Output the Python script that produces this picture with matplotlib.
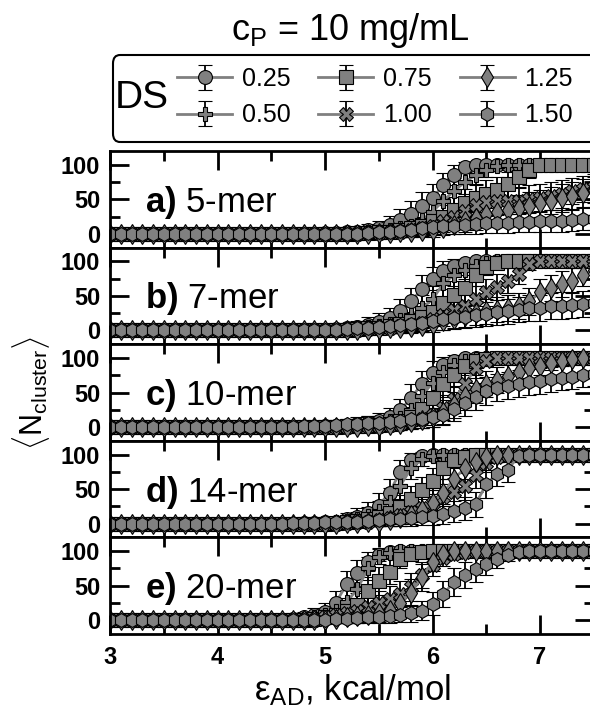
import matplotlib.pyplot as plt
from matplotlib.patches import FancyBboxPatch
import numpy as np

plt.rcParams['font.family'] = ['Liberation Sans', 'DejaVu Sans']
plt.rcParams['mathtext.fontset'] = 'custom'
plt.rcParams['mathtext.rm'] = 'Liberation Sans'
plt.rcParams['mathtext.it'] = 'Liberation Sans:italic'
plt.rcParams['mathtext.bf'] = 'Liberation Sans:bold'
plt.rcParams['mathtext.fallback'] = 'cm'

# epsilon_AD grid, 3.0 ... 7.5 kcal/mol in steps of 0.1
eps = np.round(np.arange(30, 76) / 10.0, 1)

ds_labels = ['0.25', '0.50', '0.75', '1.00', '1.25', '1.50']
ds_markers = ['o', 'P', 's', 'X', 'd', 'h']
panel_tags = ['a)', 'b)', 'c)', 'd)', 'e)']
panel_names = ['5-mer', '7-mer', '10-mer', '14-mer', '20-mer']

# <N_cluster> per DS (rows), values at 3.0-4.9 on first line, 5.0-7.5 on second
n_5mer = [
    [0, 0, 0, 0, 0, 0, 0, 0, 0, 0, 0, 0, 0, 0, 0, 0, 0, 0, 0, 0,
     1, 1, 2, 3, 5, 8, 13, 20, 29, 40, 52, 70, 85, 97, 100, 100, 100, 100, 100, 100, 100, 100, 100, 100, 100, 100],
    [0, 0, 0, 0, 0, 0, 0, 0, 0, 0, 0, 0, 0, 0, 0, 0, 0, 0, 0, 0,
     0, 0, 1, 1, 2, 3, 5, 8, 12, 20, 32, 48, 62, 75, 85, 93, 98, 100, 100, 100, 100, 100, 100, 100, 100, 100],
    [0, 0, 0, 0, 0, 0, 0, 0, 0, 0, 0, 0, 0, 0, 0, 0, 0, 0, 0, 0,
     0, 0, 0, 1, 1, 2, 3, 5, 8, 12, 18, 25, 35, 45, 52, 58, 63, 72, 82, 92, 100, 100, 100, 100, 100, 100],
    [0, 0, 0, 0, 0, 0, 0, 0, 0, 0, 0, 0, 0, 0, 0, 0, 0, 0, 0, 0,
     0, 0, 0, 0, 1, 1, 2, 3, 5, 8, 12, 18, 25, 33, 42, 46, 47, 48, 48, 50, 52, 55, 58, 62, 65, 68],
    [0, 0, 0, 0, 0, 0, 0, 0, 0, 0, 0, 0, 0, 0, 0, 0, 0, 0, 0, 0,
     0, 0, 0, 0, 0, 1, 1, 2, 3, 4, 6, 9, 13, 18, 23, 28, 31, 34, 37, 41, 44, 48, 52, 55, 59, 63],
    [0, 0, 0, 0, 0, 0, 0, 0, 0, 0, 0, 0, 0, 0, 0, 0, 0, 0, 0, 0,
     0, 0, 0, 0, 1, 2, 3, 4, 6, 8, 10, 11, 12, 13, 14, 15, 16, 16, 17, 17, 18, 19, 19, 20, 21, 22],
]
err_5mer = [
    [0, 0, 0, 0, 0, 0, 0, 0, 0, 0, 0, 0, 0, 0, 0, 0, 0, 0, 0, 0,
     4, 4, 6, 7, 9, 11, 13, 16, 18, 20, 20, 18, 14, 7, 0, 0, 0, 0, 0, 0, 0, 0, 0, 0, 0, 0],
    [0, 0, 0, 0, 0, 0, 0, 0, 0, 0, 0, 0, 0, 0, 0, 0, 0, 0, 0, 0,
     0, 0, 4, 4, 6, 7, 9, 11, 13, 16, 19, 20, 19, 17, 14, 10, 6, 0, 0, 0, 0, 0, 0, 0, 0, 0],
    [0, 0, 0, 0, 0, 0, 0, 0, 0, 0, 0, 0, 0, 0, 0, 0, 0, 0, 0, 0,
     0, 0, 0, 4, 4, 6, 7, 9, 11, 13, 15, 17, 19, 20, 20, 20, 19, 18, 15, 11, 0, 0, 0, 0, 0, 0],
    [0, 0, 0, 0, 0, 0, 0, 0, 0, 0, 0, 0, 0, 0, 0, 0, 0, 0, 0, 0,
     0, 0, 0, 0, 4, 4, 6, 7, 9, 11, 13, 15, 17, 19, 20, 20, 20, 20, 20, 20, 20, 20, 20, 19, 19, 19],
    [0, 0, 0, 0, 0, 0, 0, 0, 0, 0, 0, 0, 0, 0, 0, 0, 0, 0, 0, 0,
     0, 0, 0, 0, 0, 4, 4, 6, 7, 8, 10, 11, 13, 15, 17, 18, 18, 19, 19, 20, 20, 20, 20, 20, 20, 19],
    [0, 0, 0, 0, 0, 0, 0, 0, 0, 0, 0, 0, 0, 0, 0, 0, 0, 0, 0, 0,
     0, 0, 0, 0, 4, 6, 7, 8, 9, 11, 12, 12, 13, 13, 14, 14, 15, 15, 15, 15, 15, 16, 16, 16, 16, 17],
]

n_7mer = [
    [0, 0, 0, 0, 0, 0, 0, 0, 0, 0, 0, 0, 0, 0, 0, 0, 0, 0, 0, 0,
     1, 2, 3, 5, 8, 12, 18, 28, 42, 60, 75, 86, 93, 97, 100, 100, 100, 100, 100, 100, 100, 100, 100, 100, 100, 100],
    [0, 0, 0, 0, 0, 0, 0, 0, 0, 0, 0, 0, 0, 0, 0, 0, 0, 0, 0, 0,
     0, 1, 2, 3, 5, 7, 10, 15, 22, 32, 45, 68, 80, 88, 94, 98, 100, 100, 100, 100, 100, 100, 100, 100, 100, 100],
    [0, 0, 0, 0, 0, 0, 0, 0, 0, 0, 0, 0, 0, 0, 0, 0, 0, 0, 0, 0,
     0, 0, 1, 2, 3, 4, 6, 9, 13, 19, 27, 40, 52, 62, 80, 92, 97, 100, 100, 100, 100, 100, 100, 100, 100, 100],
    [0, 0, 0, 0, 0, 0, 0, 0, 0, 0, 0, 0, 0, 0, 0, 0, 0, 0, 0, 0,
     0, 0, 0, 1, 2, 3, 4, 6, 8, 11, 16, 23, 30, 35, 45, 55, 63, 72, 82, 96, 100, 100, 100, 100, 100, 100],
    [0, 0, 0, 0, 0, 0, 0, 0, 0, 0, 0, 0, 0, 0, 0, 0, 0, 0, 0, 0,
     0, 0, 0, 0, 1, 2, 3, 4, 5, 7, 9, 13, 17, 21, 25, 28, 30, 32, 35, 42, 55, 62, 67, 72, 80, 88],
    [0, 0, 0, 0, 0, 0, 0, 0, 0, 0, 0, 0, 0, 0, 0, 0, 0, 0, 0, 0,
     1, 1, 2, 3, 4, 5, 6, 8, 10, 11, 13, 16, 18, 20, 22, 24, 26, 28, 30, 32, 33, 35, 36, 37, 38, 39],
]
err_7mer = [
    [0, 0, 0, 0, 0, 0, 0, 0, 0, 0, 0, 0, 0, 0, 0, 0, 0, 0, 0, 0,
     4, 6, 7, 9, 11, 13, 15, 18, 20, 20, 17, 14, 10, 7, 0, 0, 0, 0, 0, 0, 0, 0, 0, 0, 0, 0],
    [0, 0, 0, 0, 0, 0, 0, 0, 0, 0, 0, 0, 0, 0, 0, 0, 0, 0, 0, 0,
     0, 4, 6, 7, 9, 10, 12, 14, 17, 19, 20, 19, 16, 13, 10, 6, 0, 0, 0, 0, 0, 0, 0, 0, 0, 0],
    [0, 0, 0, 0, 0, 0, 0, 0, 0, 0, 0, 0, 0, 0, 0, 0, 0, 0, 0, 0,
     0, 0, 4, 6, 7, 8, 10, 11, 13, 16, 18, 20, 20, 19, 16, 11, 7, 0, 0, 0, 0, 0, 0, 0, 0, 0],
    [0, 0, 0, 0, 0, 0, 0, 0, 0, 0, 0, 0, 0, 0, 0, 0, 0, 0, 0, 0,
     0, 0, 0, 4, 6, 7, 8, 10, 11, 13, 15, 17, 18, 19, 20, 20, 19, 18, 15, 8, 0, 0, 0, 0, 0, 0],
    [0, 0, 0, 0, 0, 0, 0, 0, 0, 0, 0, 0, 0, 0, 0, 0, 0, 0, 0, 0,
     0, 0, 0, 0, 4, 6, 7, 8, 9, 10, 11, 13, 15, 16, 17, 18, 18, 19, 19, 20, 20, 19, 19, 18, 16, 13],
    [0, 0, 0, 0, 0, 0, 0, 0, 0, 0, 0, 0, 0, 0, 0, 0, 0, 0, 0, 0,
     4, 4, 6, 7, 8, 9, 10, 11, 12, 12, 13, 15, 15, 16, 17, 17, 18, 18, 18, 19, 19, 19, 19, 19, 19, 20],
]

n_10mer = [
    [0, 0, 0, 0, 0, 0, 0, 0, 0, 0, 0, 0, 0, 0, 0, 0, 0, 0, 0, 0,
     1, 1, 2, 4, 6, 9, 14, 24, 42, 62, 78, 90, 96, 100, 100, 100, 100, 100, 100, 100, 100, 100, 100, 100, 100, 100],
    [0, 0, 0, 0, 0, 0, 0, 0, 0, 0, 0, 0, 0, 0, 0, 0, 0, 0, 0, 0,
     0, 1, 1, 2, 3, 5, 8, 13, 24, 45, 64, 80, 90, 95, 99, 100, 100, 100, 100, 100, 100, 100, 100, 100, 100, 100],
    [0, 0, 0, 0, 0, 0, 0, 0, 0, 0, 0, 0, 0, 0, 0, 0, 0, 0, 0, 0,
     0, 0, 1, 1, 2, 3, 5, 9, 15, 26, 42, 62, 75, 89, 95, 98, 100, 100, 100, 100, 100, 100, 100, 100, 100, 100],
    [0, 0, 0, 0, 0, 0, 0, 0, 0, 0, 0, 0, 0, 0, 0, 0, 0, 0, 0, 0,
     0, 0, 0, 1, 1, 2, 3, 5, 8, 12, 18, 28, 40, 62, 85, 96, 100, 100, 100, 100, 100, 100, 100, 100, 100, 100],
    [0, 0, 0, 0, 0, 0, 0, 0, 0, 0, 0, 0, 0, 0, 0, 0, 0, 0, 0, 0,
     0, 0, 0, 0, 1, 2, 3, 5, 7, 10, 14, 22, 32, 45, 55, 62, 68, 74, 80, 85, 89, 93, 96, 98, 100, 100],
    [0, 0, 0, 0, 0, 0, 0, 0, 0, 0, 0, 0, 0, 0, 0, 0, 0, 0, 1, 1,
     2, 3, 4, 5, 6, 6, 7, 9, 11, 12, 14, 18, 26, 35, 44, 52, 57, 60, 63, 65, 67, 69, 71, 73, 75, 77],
]
err_10mer = [
    [0, 0, 0, 0, 0, 0, 0, 0, 0, 0, 0, 0, 0, 0, 0, 0, 0, 0, 0, 0,
     4, 4, 6, 8, 10, 11, 14, 17, 20, 19, 17, 12, 8, 0, 0, 0, 0, 0, 0, 0, 0, 0, 0, 0, 0, 0],
    [0, 0, 0, 0, 0, 0, 0, 0, 0, 0, 0, 0, 0, 0, 0, 0, 0, 0, 0, 0,
     0, 4, 4, 6, 7, 9, 11, 13, 17, 20, 19, 16, 12, 9, 4, 0, 0, 0, 0, 0, 0, 0, 0, 0, 0, 0],
    [0, 0, 0, 0, 0, 0, 0, 0, 0, 0, 0, 0, 0, 0, 0, 0, 0, 0, 0, 0,
     0, 0, 4, 4, 6, 7, 9, 11, 14, 18, 20, 19, 17, 13, 9, 6, 0, 0, 0, 0, 0, 0, 0, 0, 0, 0],
    [0, 0, 0, 0, 0, 0, 0, 0, 0, 0, 0, 0, 0, 0, 0, 0, 0, 0, 0, 0,
     0, 0, 0, 4, 4, 6, 7, 9, 11, 13, 15, 18, 20, 19, 14, 8, 0, 0, 0, 0, 0, 0, 0, 0, 0, 0],
    [0, 0, 0, 0, 0, 0, 0, 0, 0, 0, 0, 0, 0, 0, 0, 0, 0, 0, 0, 0,
     0, 0, 0, 0, 4, 6, 7, 9, 10, 12, 14, 17, 19, 20, 20, 19, 19, 18, 16, 14, 13, 10, 8, 6, 0, 0],
    [0, 0, 0, 0, 0, 0, 0, 0, 0, 0, 0, 0, 0, 0, 0, 0, 0, 0, 4, 4,
     6, 7, 8, 9, 10, 10, 10, 11, 12, 13, 14, 15, 18, 19, 20, 20, 20, 20, 19, 19, 19, 18, 18, 18, 17, 17],
]

n_14mer = [
    [0, 0, 0, 0, 0, 0, 0, 0, 0, 0, 0, 0, 0, 0, 0, 0, 0, 0, 1, 1,
     2, 3, 6, 10, 16, 26, 45, 75, 92, 98, 100, 100, 100, 100, 100, 100, 100, 100, 100, 100, 100, 100, 100, 100, 100, 100],
    [0, 0, 0, 0, 0, 0, 0, 0, 0, 0, 0, 0, 0, 0, 0, 0, 0, 0, 0, 0,
     1, 2, 4, 7, 11, 18, 32, 55, 80, 93, 98, 100, 100, 100, 100, 100, 100, 100, 100, 100, 100, 100, 100, 100, 100, 100],
    [0, 0, 0, 0, 0, 0, 0, 0, 0, 0, 0, 0, 0, 0, 0, 0, 0, 0, 0, 0,
     0, 1, 2, 4, 6, 10, 15, 24, 36, 48, 62, 80, 92, 97, 100, 100, 100, 100, 100, 100, 100, 100, 100, 100, 100, 100],
    [0, 0, 0, 0, 0, 0, 0, 0, 0, 0, 0, 0, 0, 0, 0, 0, 0, 0, 0, 0,
     0, 0, 1, 2, 3, 5, 8, 12, 17, 23, 30, 38, 46, 54, 70, 88, 97, 100, 100, 100, 100, 100, 100, 100, 100, 100],
    [0, 0, 0, 0, 0, 0, 0, 0, 0, 0, 0, 0, 0, 0, 0, 0, 0, 0, 0, 0,
     0, 0, 1, 1, 2, 3, 5, 8, 12, 20, 30, 45, 65, 80, 90, 96, 99, 100, 100, 100, 100, 100, 100, 100, 100, 100],
    [0, 0, 0, 0, 0, 0, 0, 0, 0, 0, 0, 0, 0, 0, 0, 0, 0, 1, 1, 1,
     2, 2, 3, 3, 4, 5, 6, 7, 8, 9, 11, 14, 18, 22, 28, 57, 72, 78, 98, 100, 100, 100, 100, 100, 100, 100],
]
err_14mer = [
    [0, 0, 0, 0, 0, 0, 0, 0, 0, 0, 0, 0, 0, 0, 0, 0, 0, 0, 4, 4,
     6, 7, 10, 12, 15, 18, 20, 17, 11, 6, 0, 0, 0, 0, 0, 0, 0, 0, 0, 0, 0, 0, 0, 0, 0, 0],
    [0, 0, 0, 0, 0, 0, 0, 0, 0, 0, 0, 0, 0, 0, 0, 0, 0, 0, 0, 0,
     4, 6, 8, 10, 13, 15, 19, 20, 16, 10, 6, 0, 0, 0, 0, 0, 0, 0, 0, 0, 0, 0, 0, 0, 0, 0],
    [0, 0, 0, 0, 0, 0, 0, 0, 0, 0, 0, 0, 0, 0, 0, 0, 0, 0, 0, 0,
     0, 4, 6, 8, 10, 12, 14, 17, 19, 20, 19, 16, 11, 7, 0, 0, 0, 0, 0, 0, 0, 0, 0, 0, 0, 0],
    [0, 0, 0, 0, 0, 0, 0, 0, 0, 0, 0, 0, 0, 0, 0, 0, 0, 0, 0, 0,
     0, 0, 4, 6, 7, 9, 11, 13, 15, 17, 18, 19, 20, 20, 18, 13, 7, 0, 0, 0, 0, 0, 0, 0, 0, 0],
    [0, 0, 0, 0, 0, 0, 0, 0, 0, 0, 0, 0, 0, 0, 0, 0, 0, 0, 0, 0,
     0, 0, 4, 4, 6, 7, 9, 11, 13, 16, 18, 20, 19, 16, 12, 8, 4, 0, 0, 0, 0, 0, 0, 0, 0, 0],
    [0, 0, 0, 0, 0, 0, 0, 0, 0, 0, 0, 0, 0, 0, 0, 0, 0, 4, 4, 4,
     6, 6, 7, 7, 8, 9, 10, 10, 11, 11, 13, 14, 15, 17, 18, 20, 18, 17, 6, 0, 0, 0, 0, 0, 0, 0],
]

n_20mer = [
    [0, 0, 0, 0, 0, 0, 0, 0, 0, 0, 0, 0, 0, 0, 0, 0, 1, 2, 4, 7,
     12, 25, 52, 68, 85, 95, 99, 100, 100, 100, 100, 100, 100, 100, 100, 100, 100, 100, 100, 100, 100, 100, 100, 100, 100, 100],
    [0, 0, 0, 0, 0, 0, 0, 0, 0, 0, 0, 0, 0, 0, 0, 0, 0, 1, 2, 4,
     7, 14, 26, 45, 75, 92, 98, 100, 100, 100, 100, 100, 100, 100, 100, 100, 100, 100, 100, 100, 100, 100, 100, 100, 100, 100],
    [0, 0, 0, 0, 0, 0, 0, 0, 0, 0, 0, 0, 0, 0, 0, 0, 0, 0, 1, 2,
     4, 8, 14, 22, 42, 57, 70, 88, 96, 99, 100, 100, 100, 100, 100, 100, 100, 100, 100, 100, 100, 100, 100, 100, 100, 100],
    [0, 0, 0, 0, 0, 0, 0, 0, 0, 0, 0, 0, 0, 0, 0, 0, 0, 0, 0, 1,
     4, 7, 10, 14, 19, 25, 31, 38, 48, 66, 80, 90, 96, 99, 100, 100, 100, 100, 100, 100, 100, 100, 100, 100, 100, 100],
    [0, 0, 0, 0, 0, 0, 0, 0, 0, 0, 0, 0, 0, 0, 0, 0, 0, 0, 0, 0,
     1, 2, 4, 6, 8, 10, 15, 25, 40, 62, 85, 96, 100, 100, 100, 100, 100, 100, 100, 100, 100, 100, 100, 100, 100, 100],
    [0, 0, 0, 0, 0, 0, 0, 0, 0, 0, 0, 0, 0, 0, 0, 0, 0, 0, 0, 1,
     1, 2, 2, 3, 4, 5, 6, 8, 10, 14, 24, 38, 55, 66, 74, 81, 88, 95, 99, 100, 100, 100, 100, 100, 100, 100],
]
err_20mer = [
    [0, 0, 0, 0, 0, 0, 0, 0, 0, 0, 0, 0, 0, 0, 0, 0, 4, 6, 8, 10,
     13, 17, 20, 19, 14, 9, 4, 0, 0, 0, 0, 0, 0, 0, 0, 0, 0, 0, 0, 0, 0, 0, 0, 0, 0, 0],
    [0, 0, 0, 0, 0, 0, 0, 0, 0, 0, 0, 0, 0, 0, 0, 0, 0, 4, 6, 8,
     10, 14, 18, 20, 17, 11, 6, 0, 0, 0, 0, 0, 0, 0, 0, 0, 0, 0, 0, 0, 0, 0, 0, 0, 0, 0],
    [0, 0, 0, 0, 0, 0, 0, 0, 0, 0, 0, 0, 0, 0, 0, 0, 0, 0, 4, 6,
     8, 11, 14, 17, 20, 20, 18, 13, 8, 4, 0, 0, 0, 0, 0, 0, 0, 0, 0, 0, 0, 0, 0, 0, 0, 0],
    [0, 0, 0, 0, 0, 0, 0, 0, 0, 0, 0, 0, 0, 0, 0, 0, 0, 0, 0, 4,
     8, 10, 12, 14, 16, 17, 19, 19, 20, 19, 16, 12, 8, 4, 0, 0, 0, 0, 0, 0, 0, 0, 0, 0, 0, 0],
    [0, 0, 0, 0, 0, 0, 0, 0, 0, 0, 0, 0, 0, 0, 0, 0, 0, 0, 0, 0,
     4, 6, 8, 10, 11, 12, 14, 17, 20, 19, 14, 8, 0, 0, 0, 0, 0, 0, 0, 0, 0, 0, 0, 0, 0, 0],
    [0, 0, 0, 0, 0, 0, 0, 0, 0, 0, 0, 0, 0, 0, 0, 0, 0, 0, 0, 4,
     4, 6, 6, 7, 8, 9, 10, 11, 12, 14, 17, 19, 20, 19, 18, 16, 13, 9, 4, 0, 0, 0, 0, 0, 0, 0],
]

panels = [n_5mer, n_7mer, n_10mer, n_14mer, n_20mer]
panel_errs = [err_5mer, err_7mer, err_10mer, err_14mer, err_20mer]

gray = '#808080'
fig = plt.figure(figsize=(5.9, 7.08), dpi=100)

left, right = 110 / 590, 593.75 / 590
top, bottom = 1 - 151 / 708, 1 - 634 / 708
h = (top - bottom) / 5

axes = []
for k in range(5):
    ax = fig.add_axes([left, top - (k + 1) * h, right - left, h])
    for j in range(6):
        yerr = np.array(panel_errs[k][j], dtype=float)
        yerr[yerr == 0] = np.nan  # no bar where the spread is zero
        ax.errorbar(eps, panels[k][j], yerr=yerr, fmt='-', color=gray, lw=2,
                    marker=ds_markers[j], ms=10, mfc=gray, mec='black', mew=0.8,
                    ecolor='black', elinewidth=1.3, capsize=5, capthick=1.3,
                    label=ds_labels[j])
    ax.set_xlim(3, 7.5)
    ax.set_ylim(-20, 120)
    ax.set_yticks([0, 50, 100])
    ax.set_yticks([25, 75], minor=True)
    ax.set_xticks([3, 4, 5, 6, 7])
    ax.set_xticks([3.5, 4.5, 5.5, 6.5, 7.5], minor=True)
    ax.tick_params(which='both', direction='in', top=True, right=True, width=2)
    ax.tick_params(which='major', length=14)
    ax.tick_params(which='minor', length=7)
    ax.tick_params(axis='y', labelsize=17, pad=7)
    ax.tick_params(axis='x', labelsize=17, pad=9)
    for lbl in ax.get_yticklabels() + ax.get_xticklabels():
        lbl.set_fontweight('bold')
    if k < 4:
        ax.tick_params(axis='x', labelbottom=False)
    for sp in ax.spines.values():
        sp.set_linewidth(2)
    ax.text(3.33, 32, r'$\mathbf{' + panel_tags[k] + '}$ ' + panel_names[k],
            fontsize=25, va='baseline', ha='left')
    axes.append(ax)

fig.text(350 / 590, 1 - 30 / 708, r'c$_{\mathrm{P}}$ = 10 mg/mL',
         fontsize=26, ha='center', va='center')
fig.text(352 / 590, 1 - 690 / 708, r'ε$_{\mathrm{AD}}$, kcal/mol',
         fontsize=25, ha='center', va='center')
fig.text(31 / 590, 1 - 393 / 708, r'$\langle$N$_{\mathrm{cluster}}$$\rangle$',
         fontsize=22, rotation=90, ha='center', va='center')

# legend frame with the DS heading
frame = FancyBboxPatch((113 / 590, 1 - 142 / 708), 0.9, 87 / 708,
                       boxstyle='round,pad=0,rounding_size=0.012',
                       transform=fig.transFigure, fill=False, lw=1.5,
                       edgecolor='black')
fig.add_artist(frame)
fig.text(115 / 590, 1 - 98 / 708, 'DS', fontsize=28, ha='left', va='center')

handles, labels = axes[0].get_legend_handles_labels()
fig.legend(handles, labels, ncol=3, loc='upper left',
           bbox_to_anchor=(177 / 590, 1 - 67 / 708), frameon=False,
           fontsize=18, handlelength=2.2, handletextpad=0.4,
           columnspacing=1.1, labelspacing=0.5, borderpad=0,
           borderaxespad=0)

fig.savefig('out.png', dpi=100)
